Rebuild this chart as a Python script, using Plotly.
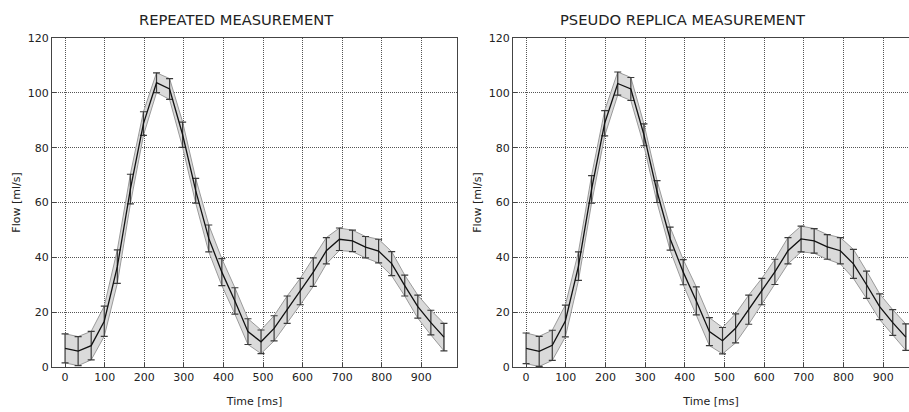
import plotly.graph_objects as go

time_ms = [0, 33, 66, 99, 132, 165, 198, 231, 264, 297, 330, 363, 396, 429, 462,
           495, 528, 561, 594, 627, 660, 693, 726, 759, 792, 825, 858, 891, 924, 957]

rep_mean = [6.8, 5.8, 7.8, 16.7, 36.6, 64.9, 88.8, 103.7, 101.4, 84.7, 64.3, 46.9, 34.6, 24.1, 12.9,
            9.2, 14.1, 20.9, 27.5, 34.6, 42.4, 46.6, 46.0, 43.7, 42.3, 37.7, 29.7, 22.0, 16.2, 10.9]
rep_sd = [5.3, 5.3, 5.2, 5.5, 6.1, 5.4, 4.3, 3.6, 3.8, 4.6, 4.5, 4.9, 4.9, 4.8, 4.7,
          4.3, 4.6, 5.0, 4.8, 5.2, 4.8, 4.1, 3.9, 3.9, 4.3, 4.4, 3.8, 4.2, 4.5, 5.0]

pr_mean = [6.8, 5.7, 7.9, 16.8, 36.8, 64.8, 88.9, 103.4, 101.4, 84.7, 64.0, 46.8, 34.6, 24.1, 12.9,
           9.6, 14.1, 20.9, 27.5, 34.7, 42.4, 46.7, 46.0, 43.8, 42.4, 37.6, 30.0, 22.0, 16.2, 10.9]
pr_sd = [5.6, 5.5, 5.5, 5.8, 5.2, 5.0, 4.6, 4.2, 4.2, 4.0, 4.0, 4.2, 4.6, 5.1, 5.1,
         4.8, 5.3, 5.3, 4.8, 4.6, 4.8, 4.7, 4.5, 4.5, 4.8, 5.3, 5.0, 4.7, 4.7, 4.8]

titles = ["REPEATED MEASUREMENT", "PSEUDO REPLICA MEASUREMENT"]
x_ticks = [0, 100, 200, 300, 400, 500, 600, 700, 800, 900]
y_ticks = [0, 20, 40, 60, 80, 100, 120]

W, H = 909, 412
FONT = "DejaVu Sans"

fig = go.Figure()

def add_panel(mean, sd, xa, ya):
    upper = [m + s for m, s in zip(mean, sd)]
    lower = [m - s for m, s in zip(mean, sd)]
    fig.add_trace(go.Scatter(
        x=time_ms + time_ms[::-1], y=upper + lower[::-1],
        fill="toself", fillcolor="#dadada",
        line=dict(color="#9a9a9a", width=1),
        mode="lines", hoverinfo="skip", showlegend=False,
        xaxis=xa, yaxis=ya))
    fig.add_trace(go.Scatter(
        x=time_ms, y=mean, mode="lines",
        line=dict(color="#111111", width=1.3),
        error_y=dict(type="data", array=sd, visible=True,
                     color="#3a3a3a", thickness=1.2, width=3.5),
        showlegend=False, xaxis=xa, yaxis=ya))

add_panel(rep_mean, rep_sd, "x", "y")
add_panel(pr_mean, pr_sd, "x2", "y2")

y_dom = [(H - 367) / H, (H - 38) / H]
common_x = dict(
    tickvals=x_ticks, ticks="inside", ticklen=4, tickcolor="#444",
    showline=True, linecolor="#444", linewidth=1, automargin=False,
    showgrid=True, gridcolor="#555", griddash="1px,1px", gridwidth=1,
    zeroline=False, tickfont=dict(family=FONT, size=11, color="#222"),
    title=dict(text="Time [ms]", font=dict(family=FONT, size=11, color="#222"), standoff=14),
)
common_y = dict(
    tickvals=y_ticks, range=[0, 120], ticks="inside", ticklen=4, tickcolor="#444",
    showline=True, linecolor="#444", linewidth=1, automargin=False,
    showgrid=True, gridcolor="#555", griddash="1px,1px", gridwidth=1,
    zeroline=False, tickfont=dict(family=FONT, size=11, color="#222"),
    title=dict(text="Flow [ml/s]", font=dict(family=FONT, size=11, color="#222"), standoff=4),
)

fig.update_layout(
    width=W, height=H,
    margin=dict(l=0, r=0, t=0, b=0),
    paper_bgcolor="white", plot_bgcolor="white",
    xaxis=dict(common_x, domain=[52 / W, 457 / W], range=[-33, 990], mirror=True, anchor="y"),
    yaxis=dict(common_y, domain=y_dom, mirror=True, anchor="x"),
    xaxis2=dict(common_x, domain=[513 / W, 1.0], range=[-33, 965], mirror=True, anchor="y2"),
    yaxis2=dict(common_y, domain=y_dom, mirror=False, anchor="x2"),
    annotations=[
        dict(text=titles[0], x=236 / W, y=1 - 20 / H, xref="paper", yref="paper",
             showarrow=False, xanchor="center", yanchor="middle",
             font=dict(family=FONT, size=14.7, color="#222")),
        dict(text=titles[1], x=683 / W, y=1 - 20 / H, xref="paper", yref="paper",
             showarrow=False, xanchor="center", yanchor="middle",
             font=dict(family=FONT, size=14.7, color="#222")),
    ],
)

fig.write_html(
    "out.html",
    config={"displayModeBar": False},
    post_script="document.body.style.margin='0';document.body.style.overflow='hidden';",
)
